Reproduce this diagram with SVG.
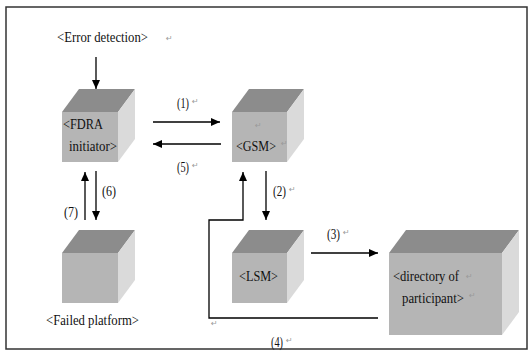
<svg xmlns="http://www.w3.org/2000/svg" width="528" height="351" viewBox="0 0 528 351">
<style>
.top{fill:#8c8c8c}
.front{fill:#b5b5b5}
.side{fill:#dadada}
.t{font-family:"Liberation Serif","Times New Roman","DejaVu Serif",serif;font-size:14px;fill:#111}
.rm{font-family:"DejaVu Sans",sans-serif;font-size:8px;fill:#9a9a9a}
.ln{fill:none;stroke:#000;stroke-width:1.3}
</style>
<defs>
<marker id="ah" markerUnits="userSpaceOnUse" markerWidth="10" markerHeight="8" refX="9" refY="4" orient="auto">
<path d="M0,0 L9,4 L0,8 Z" fill="#000"/>
</marker>
</defs>
<rect x="6" y="7" width="521" height="342" fill="#fff" stroke="#333" stroke-width="1.5"/>

<g id="error-detection">
<text class="t" x="57" y="42" textLength="91" lengthAdjust="spacingAndGlyphs">&lt;Error detection&gt;</text>
<text class="rm" x="166" y="41">↵</text>
</g>

<g id="fdra">
<rect class="front" x="62" y="112" width="56" height="50"/>
<polygon class="top" points="62,112 79,89 135,89 118,112"/>
<polygon class="side" points="118,112 135,89 135,139 118,162"/>
<text class="t" x="63" y="129" textLength="40" lengthAdjust="spacingAndGlyphs">&lt;FDRA</text>
<text class="t" x="69" y="151" textLength="48" lengthAdjust="spacingAndGlyphs">initiator&gt;</text>
</g>

<g id="gsm">
<rect class="front" x="232" y="112" width="55" height="50"/>
<polygon class="top" points="232,112 249,89 304,89 287,112"/>
<polygon class="side" points="287,112 304,89 304,139 287,162"/>
<text class="rm" x="255" y="128">↵</text>
<text class="t" x="236" y="151" textLength="40" lengthAdjust="spacingAndGlyphs">&lt;GSM&gt;</text>
<text class="rm" x="281" y="146">↵</text>
</g>

<g id="failed-platform">
<rect class="front" x="62" y="253" width="56" height="50"/>
<polygon class="top" points="62,253 79,230 135,230 118,253"/>
<polygon class="side" points="118,253 135,230 135,280 118,303"/>
<text class="t" x="46" y="325" textLength="93" lengthAdjust="spacingAndGlyphs">&lt;Failed platform&gt;</text>
</g>

<g id="lsm">
<rect class="front" x="232" y="253" width="55" height="50"/>
<polygon class="top" points="232,253 249,230 304,230 287,253"/>
<polygon class="side" points="287,253 304,230 304,280 287,303"/>
<text class="t" x="239" y="281" textLength="39" lengthAdjust="spacingAndGlyphs">&lt;LSM&gt;</text>
</g>

<g id="directory">
<rect class="front" x="389" y="253" width="113" height="82"/>
<polygon class="top" points="389,253 406,230 519,230 502,253"/>
<polygon class="side" points="502,253 519,230 519,312 502,335"/>
<text class="t" x="393" y="281" textLength="66" lengthAdjust="spacingAndGlyphs">&lt;directory of</text>
<text class="rm" x="466" y="279">↵</text>
<text class="t" x="402" y="303" textLength="62" lengthAdjust="spacingAndGlyphs">participant&gt;</text>
<text class="rm" x="469" y="298">↵</text>
</g>

<g id="connectors">
<line class="ln" x1="96" y1="57" x2="96" y2="89" marker-end="url(#ah)"/>
<line class="ln" x1="153" y1="122" x2="220" y2="122" marker-end="url(#ah)"/>
<line class="ln" x1="221" y1="144" x2="153" y2="144" marker-end="url(#ah)"/>
<line class="ln" x1="266" y1="171" x2="266" y2="220" marker-end="url(#ah)"/>
<line class="ln" x1="311" y1="253" x2="378" y2="253" marker-end="url(#ah)"/>
<polyline class="ln" points="378,318 209,318 209,220 243,220 243,172" marker-end="url(#ah)"/>
<line class="ln" x1="96" y1="171" x2="96" y2="220" marker-end="url(#ah)"/>
<line class="ln" x1="85" y1="220" x2="85" y2="172" marker-end="url(#ah)"/>
<text class="rm" x="211" y="326">↵</text>
<text class="t" x="177" y="108" textLength="12" lengthAdjust="spacingAndGlyphs">(1)</text>
<text class="rm" x="192" y="104">↵</text>
<text class="t" x="177" y="172" textLength="12" lengthAdjust="spacingAndGlyphs">(5)</text>
<text class="rm" x="192" y="168">↵</text>
<text class="t" x="273" y="196" textLength="13" lengthAdjust="spacingAndGlyphs">(2)</text>
<text class="rm" x="289" y="192">↵</text>
<text class="t" x="327" y="239" textLength="13" lengthAdjust="spacingAndGlyphs">(3)</text>
<text class="rm" x="343" y="235">↵</text>
<text class="t" x="271" y="347" textLength="12" lengthAdjust="spacingAndGlyphs">(4)</text>
<text class="rm" x="286" y="343">↵</text>
<text class="t" x="102" y="196" textLength="14" lengthAdjust="spacingAndGlyphs">(6)</text>
<text class="t" x="64" y="217" textLength="14" lengthAdjust="spacingAndGlyphs">(7)</text>
</g>
</svg>
